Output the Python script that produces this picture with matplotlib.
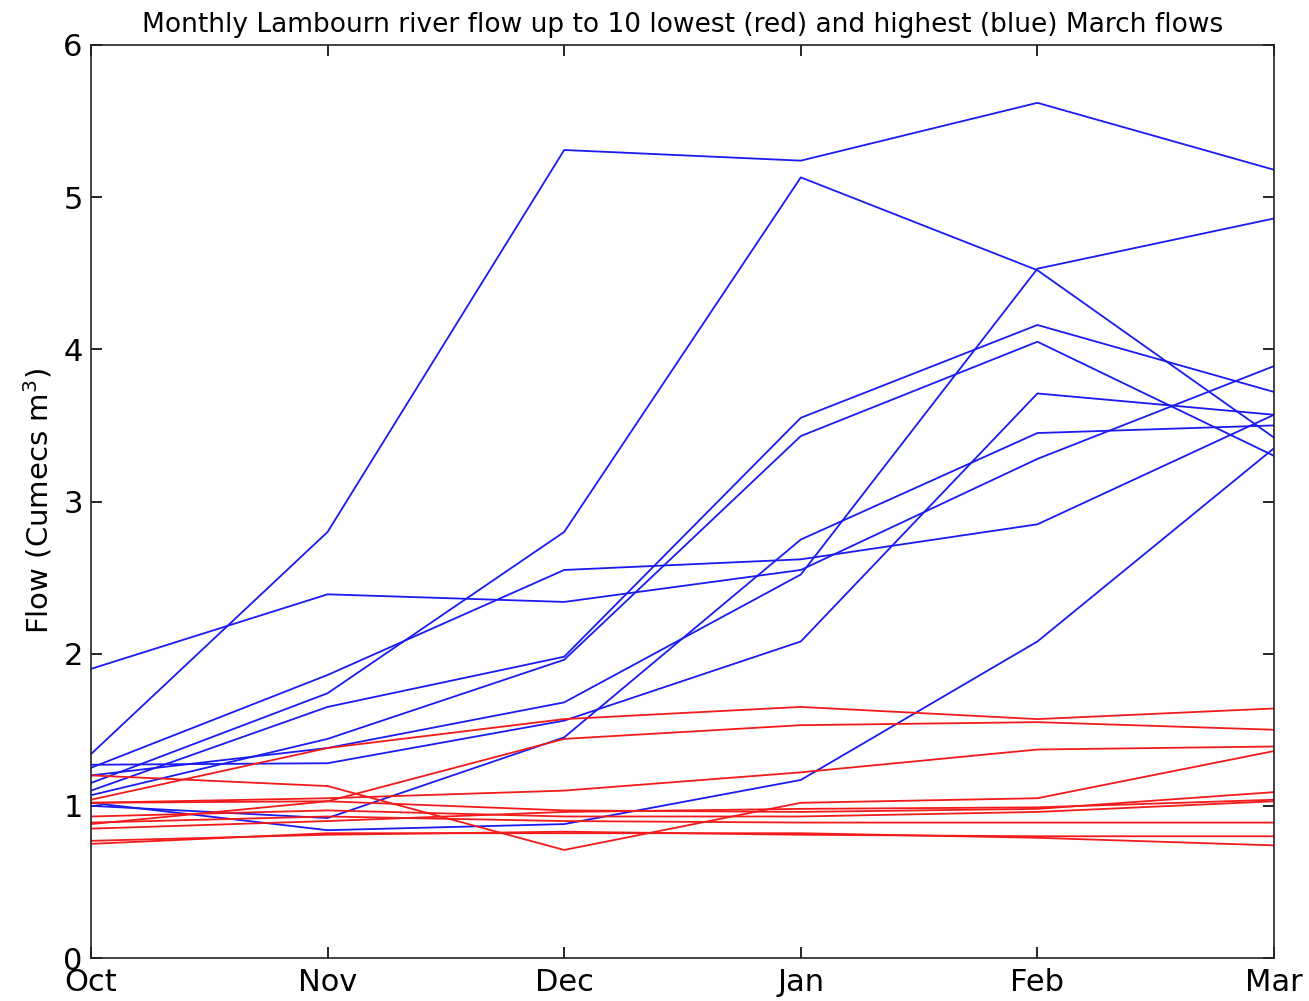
import matplotlib
matplotlib.use("Agg")
import matplotlib.pyplot as plt

months = ["Oct", "Nov", "Dec", "Jan", "Feb", "Mar"]

# Ten years with the highest March flow (cumecs)
high_flows = [
    [1.34, 2.80, 5.31, 5.24, 5.62, 5.18],
    [1.15, 1.74, 2.80, 5.13, 4.52, 3.42],
    [1.25, 1.86, 2.55, 2.62, 2.85, 3.57],
    [1.90, 2.39, 2.34, 2.55, 3.28, 3.89],
    [1.10, 1.65, 1.98, 3.55, 4.16, 3.72],
    [1.07, 1.44, 1.96, 3.43, 4.05, 3.30],
    [1.20, 1.38, 1.68, 2.52, 4.53, 4.86],
    [1.00, 0.92, 1.45, 2.75, 3.45, 3.50],
    [1.27, 1.28, 1.56, 2.08, 3.71, 3.57],
    [1.02, 0.84, 0.88, 1.17, 2.08, 3.35],
]

# Ten years with the lowest March flow (cumecs)
low_flows = [
    [1.20, 1.13, 0.71, 1.02, 1.05, 1.36],
    [1.04, 1.38, 1.57, 1.65, 1.57, 1.64],
    [0.88, 1.03, 1.44, 1.53, 1.55, 1.50],
    [1.02, 1.05, 1.10, 1.22, 1.37, 1.39],
    [1.02, 1.03, 0.97, 0.96, 0.98, 1.09],
    [0.93, 0.97, 0.93, 0.93, 0.96, 1.03],
    [0.85, 0.90, 0.96, 0.98, 0.99, 1.04],
    [0.89, 0.93, 0.90, 0.89, 0.89, 0.89],
    [0.77, 0.81, 0.83, 0.81, 0.80, 0.80],
    [0.75, 0.82, 0.82, 0.82, 0.79, 0.74],
]

fig = plt.figure(figsize=(13.09, 10.01), dpi=100)
ax = fig.add_axes([91 / 1309, 43 / 1001, 1183 / 1309, 913 / 1001])

x = list(range(len(months)))
for series in high_flows:
    ax.plot(x, series, color=(0.1, 0.1, 0.95), lw=1.3)
for series in low_flows:
    ax.plot(x, series, color=(0.95, 0.1, 0.1), lw=1.3)

ax.set_xlim(0, len(months) - 1)
ax.set_ylim(0, 6)
ax.set_xticks(x)
ax.set_xticklabels(months)
ax.set_yticks(range(0, 7))
ax.tick_params(direction="in", length=8, width=1.2, labelsize=22,
               top=True, right=True, pad=6)
ax.tick_params(axis="x", pad=7)
for s in ax.spines.values():
    s.set_linewidth(1.2)
    s.set_color("#222222")

ax.set_ylabel("Flow (Cumecs m$^3$)", fontsize=21, labelpad=6)
ax.set_title("Monthly Lambourn river flow up to 10 lowest (red) and highest (blue) March flows",
             fontsize=19, pad=9)

fig.savefig("out.png", dpi=100)
